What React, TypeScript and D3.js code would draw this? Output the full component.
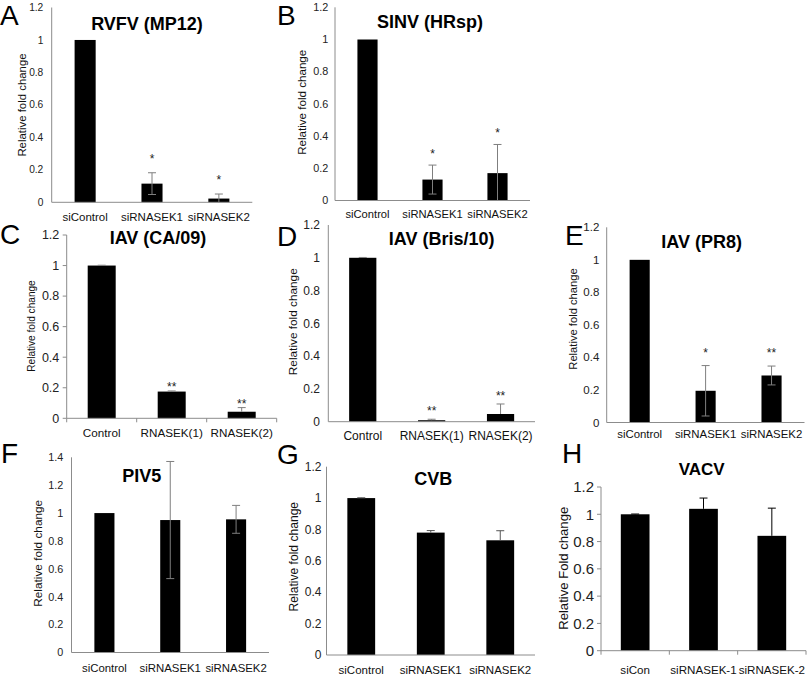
import React from "react";
import * as d3 from "d3";

// ---------- data ----------
const catsSi = ["siControl", "siRNASEK1", "siRNASEK2"];
const catsIAV = ["Control", "RNASEK(1)", "RNASEK(2)"];
const catsVACV = ["siCon", "siRNASEK-1", "siRNASEK-2"];

const ticks12 = [0, 0.2, 0.4, 0.6, 0.8, 1, 1.2];
const ticks14 = [0, 0.2, 0.4, 0.6, 0.8, 1, 1.2, 1.4];

const valuesA = [1, 0.115, 0.023];
const errorsA = [0, 0.067, 0.028];
const starsA = ["", "*", "*"];

const valuesB = [1, 0.13, 0.17];
const errorsB = [0, 0.09, 0.178];
const starsB = ["", "*", "*"];

const valuesC = [1, 0.175, 0.043];
const errorsC = [0.002, 0.004, 0.027];
const starsC = ["", "**", "**"];

const valuesD = [1, 0.009, 0.047];
const errorsD = [0.002, 0.006, 0.061];
const starsD = ["", "**", "**"];

const valuesE = [1, 0.195, 0.289];
const errorsE = [0, 0.155, 0.058];
const starsE = ["", "*", "**"];

const valuesF = [1, 0.95, 0.955];
const errorsF = [0, 0.42, 0.1];
const starsF = ["", "", ""];

const valuesG = [1, 0.78, 0.731];
const errorsG = [0.002, 0.013, 0.061];
const starsG = ["", "", ""];

const valuesH = [1, 1.04, 0.842];
const errorsH = [0.002, 0.079, 0.203];
const starsH = ["", "", ""];

// ---------- layout ----------
type Panel = {
  letter: string; lx: number; ly: number;
  title: string; tx: number; ty: number; tSize: number;
  cats: string[]; values: number[]; errors: number[]; stars: string[];
  ticks: number[]; yMax: number;
  x0: number; x1: number; yZero: number; yTop: number;
  barFrac: number; tickFont: number; tickGap: number;
  xlFont: number; xlY: number;
  ylText: string; ylFont: number; ylX: number; ylY: number;
  errColor: string; errDown: boolean; starFont: number; starOff: number;
  tickMarks: boolean;
};

const panels: Panel[] = [
  { letter: "A", lx: 0, ly: 25, title: "RVFV (MP12)", tx: 147, ty: 30, tSize: 18,
    cats: catsSi, values: valuesA, errors: errorsA, stars: starsA, ticks: ticks12, yMax: 1.2,
    x0: 51.7, x1: 252.3, yZero: 202.3, yTop: 7.5, barFrac: 0.315, tickFont: 10.2, tickGap: 8.4,
    xlFont: 11.5, xlY: 221, ylText: "Relative fold change", ylFont: 11.4, ylX: 21.7, ylY: 105,
    errColor: "#7f7f7f", errDown: true, starFont: 12, starOff: 10, tickMarks: false },
  { letter: "B", lx: 277, ly: 25, title: "SINV (HRsp)", tx: 430, ty: 28, tSize: 18,
    cats: catsSi, values: valuesB, errors: errorsB, stars: starsB, ticks: ticks12, yMax: 1.2,
    x0: 335, x1: 530, yZero: 200.5, yTop: 7.3, barFrac: 0.31, tickFont: 10.8, tickGap: 6.7,
    xlFont: 11.2, xlY: 217.5, ylText: "Relative fold change", ylFont: 11.6, ylX: 301.7, ylY: 102.3,
    errColor: "#7f7f7f", errDown: true, starFont: 12, starOff: 7, tickMarks: false },
  { letter: "C", lx: 0, ly: 244, title: "IAV (CA/09)", tx: 158, ty: 243.5, tSize: 18,
    cats: catsIAV, values: valuesC, errors: errorsC, stars: starsC, ticks: ticks12, yMax: 1.2,
    x0: 66.7, x1: 276.7, yZero: 418.3, yTop: 235, barFrac: 0.4, tickFont: 12.5, tickGap: 7.4,
    xlFont: 11.7, xlY: 436.5, ylText: "Relative fold change", ylFont: 10.1, ylX: 31.7, ylY: 326,
    errColor: "#7f7f7f", errDown: false, starFont: 12, starOff: 0, tickMarks: true },
  { letter: "D", lx: 277, ly: 246, title: "IAV (Bris/10)", tx: 441.7, ty: 244.5, tSize: 18,
    cats: catsIAV, values: valuesD, errors: errorsD, stars: starsD, ticks: ticks12, yMax: 1.2,
    x0: 328.3, x1: 535, yZero: 421.7, yTop: 225, barFrac: 0.395, tickFont: 12, tickGap: 8.3,
    xlFont: 12, xlY: 440, ylText: "Relative fold change", ylFont: 11.8, ylX: 293.3, ylY: 321.7,
    errColor: "#7f7f7f", errDown: false, starFont: 12, starOff: 4, tickMarks: false },
  { letter: "E", lx: 565, ly: 245, title: "IAV (PR8)", tx: 701.7, ty: 248, tSize: 18,
    cats: catsSi, values: valuesE, errors: errorsE, stars: starsE, ticks: ticks12, yMax: 1.2,
    x0: 606.7, x1: 804.5, yZero: 422.5, yTop: 227.3, barFrac: 0.305, tickFont: 11.5, tickGap: 7.4,
    xlFont: 11.4, xlY: 437.5, ylText: "Relative fold change", ylFont: 11.2, ylX: 573.3, ylY: 319,
    errColor: "#7f7f7f", errDown: true, starFont: 12, starOff: 9, tickMarks: false },
  { letter: "F", lx: 1, ly: 463, title: "PIV5", tx: 141.7, ty: 481.5, tSize: 18,
    cats: catsSi, values: valuesF, errors: errorsF, stars: starsF, ticks: ticks14, yMax: 1.4,
    x0: 71.5, x1: 269, yZero: 652.5, yTop: 457.3, barFrac: 0.305, tickFont: 10.8, tickGap: 8.2,
    xlFont: 11.4, xlY: 672, ylText: "Relative fold change", ylFont: 11.8, ylX: 38.3, ylY: 553.3,
    errColor: "#7f7f7f", errDown: true, starFont: 12, starOff: 0, tickMarks: false },
  { letter: "G", lx: 277, ly: 464, title: "CVB", tx: 433.3, ty: 484.5, tSize: 18,
    cats: catsSi, values: valuesG, errors: errorsG, stars: starsG, ticks: ticks12, yMax: 1.2,
    x0: 326.5, x1: 535, yZero: 655, yTop: 466.7, barFrac: 0.4, tickFont: 12, tickGap: 5,
    xlFont: 11.5, xlY: 674, ylText: "Relative fold change", ylFont: 12.1, ylX: 293.3, ylY: 556.7,
    errColor: "#555555", errDown: false, starFont: 12, starOff: 0, tickMarks: false },
  { letter: "H", lx: 562, ly: 463, title: "VACV", tx: 701.7, ty: 474.5, tSize: 17,
    cats: catsVACV, values: valuesH, errors: errorsH, stars: starsH, ticks: ticks12, yMax: 1.2,
    x0: 601, x1: 806, yZero: 650.7, yTop: 487, barFrac: 0.42, tickFont: 15, tickGap: 7,
    xlFont: 11.6, xlY: 674, ylText: "Relative Fold change", ylFont: 13.1, ylX: 563.3, ylY: 568.3,
    errColor: "#000000", errDown: false, starFont: 12, starOff: 0, tickMarks: true },
];

const FONT = "'Liberation Sans', Arial, Helvetica, sans-serif";
const AXIS = "#8c8c8c";

function fmt(v: number) {
  return String(Math.round(v * 10) / 10);
}

function PanelView({ p }: { p: Panel }) {
  const x = d3.scaleBand<string>().domain(p.cats).range([p.x0, p.x1]).padding(0);
  const y = d3.scaleLinear().domain([0, p.yMax]).range([p.yZero, p.yTop]);
  const bw = x.bandwidth() * p.barFrac;
  const cap = 4;
  return (
    <g fontFamily={FONT}>
      <text x={p.lx} y={p.ly} fontSize={28} fill="#000">{p.letter}</text>
      <text x={p.tx} y={p.ty} fontSize={p.tSize} fontWeight="bold" textAnchor="middle" fill="#000">{p.title}</text>
      {/* y tick labels */}
      {p.ticks.map((t) => (
        <g key={"t" + t}>
          <text x={p.x0 - p.tickGap} y={y(t)} dy="0.35em" fontSize={p.tickFont} textAnchor="end" fill="#222">{fmt(t)}</text>
          {p.tickMarks && <line x1={p.x0 - 4} x2={p.x0} y1={y(t)} y2={y(t)} stroke={AXIS} strokeWidth={1} />}
        </g>
      ))}
      {/* bars */}
      {p.cats.map((c, i) => {
        const cx = (x(c) as number) + x.bandwidth() / 2;
        const v = p.values[i];
        const e = p.errors[i];
        const top = y(v + e);
        const bot = y(Math.max(0, v - e));
        return (
          <g key={c}>
            <rect x={cx - bw / 2} y={y(v)} width={bw} height={p.yZero - y(v)} fill="#000" />
            {e > 0 && (
              <g stroke={p.errColor} strokeWidth={1}>
                <line x1={cx} x2={cx} y1={top} y2={p.errDown ? bot : y(v)} />
                <line x1={cx - cap} x2={cx + cap} y1={top} y2={top} />
                {p.errDown && v - e > 0 && <line x1={cx - cap} x2={cx + cap} y1={bot} y2={bot} />}
              </g>
            )}
            {p.stars[i] && (
              <text x={cx} y={top - p.starOff} fontSize={p.starFont} textAnchor="middle" fill="#222">{p.stars[i]}</text>
            )}
            <text x={cx} y={p.xlY} fontSize={p.xlFont} textAnchor="middle" fill="#111">{c}</text>
          </g>
        );
      })}
      {/* axes */}
      <line x1={p.x0} x2={p.x0} y1={p.yTop} y2={p.yZero} stroke={AXIS} strokeWidth={1} />
      <line x1={p.x0} x2={p.x1} y1={p.yZero} y2={p.yZero} stroke={AXIS} strokeWidth={1} />
      {p.tickMarks &&
        [p.x0, ...p.cats.map((c) => (x(c) as number) + x.bandwidth())].map((tx, i) => (
          <line key={"xm" + i} x1={tx} x2={tx} y1={p.yZero} y2={p.yZero + 4} stroke={AXIS} strokeWidth={1} />
        ))}
      <text
        transform={`translate(${p.ylX + p.ylFont * 0.35},${p.ylY}) rotate(-90)`}
        fontSize={p.ylFont}
        textAnchor="middle"
        fill="#111"
      >
        {p.ylText}
      </text>
    </g>
  );
}

export default function App() {
  return (
    <svg
      width={807}
      height={677}
      viewBox="0 0 807 677"
      style={{ position: "absolute", left: 0, top: 0, background: "#fff" }}
    >
      <rect x={0} y={0} width={807} height={677} fill="#fff" />
      {panels.map((p) => (
        <PanelView key={p.letter} p={p} />
      ))}
    </svg>
  );
}
